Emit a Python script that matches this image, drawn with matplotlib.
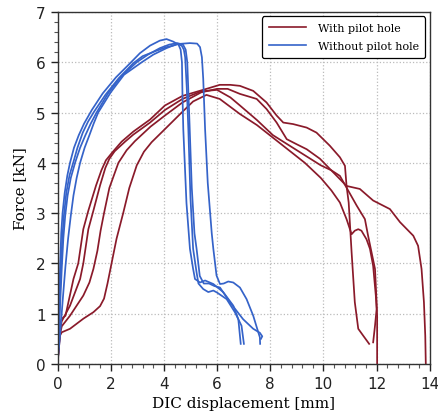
import matplotlib
matplotlib.use("Agg")
import matplotlib.pyplot as plt
from matplotlib.ticker import MultipleLocator
from matplotlib.lines import Line2D

# ---- data: With pilot hole (red) ----
red_a_x = [0, 0.08, 0.16, 0.47, 0.97, 1.35, 1.6, 1.75, 1.88, 2.04, 2.22, 2.47, 2.7, 2.98, 3.25, 3.54, 4.04, 4.67, 5.1, 5.6, 6.1, 6.86,
           7.5, 8.1, 8.7, 9.3, 9.9, 10.3, 10.62, 10.87, 11.06, 11.18, 11.31, 11.43, 11.62, 11.75, 11.87, 11.97, 12.0, 11.94, 11.87]
red_a_f = [0, 0.55, 0.63, 0.70, 0.90, 1.03, 1.15, 1.3, 1.6, 2.02, 2.49, 3.0, 3.5, 3.95, 4.22, 4.41, 4.67, 5.0, 5.22, 5.35, 5.27, 4.97,
           4.75, 4.5, 4.25, 4.0, 3.7, 3.45, 3.21, 2.88, 2.58, 2.65, 2.68, 2.65, 2.48, 2.29, 1.95, 1.36, 1.09, 0.76, 0.43]

red_b_x = [0, 0.1, 0.16, 0.47, 0.97, 1.2, 1.35, 1.5, 1.62, 1.75, 1.95, 2.29, 2.6, 2.91, 3.5, 4.04, 4.7, 5.4, 6.0, 6.4, 6.86,
           7.49, 7.86, 8.24, 8.62, 8.99, 9.37, 9.87, 10.37, 10.87, 11.37, 11.87, 12.5, 12.88, 13.38, 13.56, 13.69, 13.78, 13.83, 13.85]
red_b_f = [0, 0.6, 0.75, 0.96, 1.36, 1.62, 1.89, 2.25, 2.65, 3.0, 3.5, 4.0, 4.25, 4.43, 4.72, 4.94, 5.2, 5.4, 5.47, 5.47, 5.37,
           5.27, 5.07, 4.8, 4.47, 4.37, 4.27, 4.08, 3.81, 3.54, 3.48, 3.25, 3.08, 2.82, 2.55, 2.35, 1.89, 1.23, 0.56, 0.0]

red_c_x = [0, 0.1, 0.16, 0.47, 0.85, 0.97, 1.16, 1.35, 1.6, 1.8, 1.95, 2.15, 2.54, 2.85, 3.48, 4.04, 4.7, 5.4, 6.0, 6.5, 6.86,
           7.5, 8.1, 8.7, 9.3, 9.9, 10.3, 10.62, 11.25, 11.56, 11.68, 11.81, 11.94, 12.0, 12.02, 12.02]
red_c_f = [0, 0.7, 0.85, 1.16, 1.69, 2.0, 2.68, 3.05, 3.55, 3.9, 4.08, 4.23, 4.42, 4.56, 4.8, 5.05, 5.27, 5.42, 5.45, 5.3, 5.14,
           4.85, 4.55, 4.35, 4.15, 3.95, 3.85, 3.74, 3.15, 2.88, 2.55, 2.22, 1.89, 1.23, 0.96, 0.0]

red_d_x = [0, 0.1, 0.16, 0.3, 0.6, 0.78, 0.97, 1.16, 1.45, 1.65, 1.82, 2.05, 2.41, 2.85, 3.48, 4.04, 4.7, 5.6, 6.1, 6.5, 6.86,
           7.36, 7.86, 8.24, 8.49, 8.86, 9.37, 9.74, 10.24, 10.62, 10.81, 10.87, 10.95, 11.06, 11.18, 11.31, 11.5, 11.72]
red_d_f = [0, 0.8, 0.9, 0.96, 1.69, 2.0, 2.68, 3.05, 3.55, 3.85, 4.05, 4.2, 4.42, 4.62, 4.86, 5.14, 5.33, 5.47, 5.55, 5.55, 5.53,
           5.43, 5.2, 4.94, 4.8, 4.77, 4.7, 4.6, 4.34, 4.11, 3.94, 3.54, 3.21, 2.22, 1.23, 0.70, 0.56, 0.40]

# ---- data: Without pilot hole (blue) ----
blue_1_x = [0, 0.03, 0.06, 0.1, 0.14, 0.19, 0.27, 0.37, 0.47, 0.62, 0.8, 1.0, 1.29, 1.7, 2.2, 2.73, 3.1, 3.48, 3.85, 4.1,
            4.35, 4.55, 4.63, 4.68, 4.7, 4.73, 4.85, 4.98, 5.1, 5.17, 5.36, 5.55, 5.86, 6.23, 6.61, 6.8, 6.89]
blue_1_f = [0, 0.5, 1.2, 2.0, 2.6, 3.0, 3.4, 3.75, 4.0, 4.3, 4.55, 4.78, 5.05, 5.38, 5.7, 5.98, 6.18, 6.33, 6.43, 6.46,
            6.41, 6.35, 6.25, 6.0, 5.33, 4.67, 3.2, 2.29, 1.89, 1.69, 1.62, 1.66, 1.59, 1.43, 1.16, 0.89, 0.4]

blue_2_x = [0, 0.04, 0.08, 0.13, 0.18, 0.24, 0.33, 0.45, 0.59, 0.75, 0.95, 1.15, 1.38, 1.8, 2.3, 2.85, 3.2, 3.73, 4.1, 4.35,
            4.54, 4.67, 4.75, 4.8, 4.86, 4.92, 5.0, 5.1, 5.23, 5.3, 5.48, 5.67, 5.86, 6.0, 6.36, 6.67, 6.92, 7.01]
blue_2_f = [0, 0.5, 1.2, 1.9, 2.5, 2.95, 3.4, 3.75, 4.0, 4.3, 4.6, 4.82, 5.02, 5.35, 5.68, 5.98, 6.12, 6.23, 6.3, 6.33,
            6.36, 6.33, 6.25, 6.1, 5.5, 4.67, 3.3, 2.29, 1.82, 1.6, 1.49, 1.43, 1.46, 1.42, 1.29, 1.03, 0.76, 0.4]

blue_3_x = [0, 0.05, 0.1, 0.16, 0.22, 0.29, 0.38, 0.5, 0.66, 0.85, 1.05, 1.25, 1.47, 1.9, 2.4, 2.98, 3.4, 3.85, 4.2, 4.5,
            4.72, 4.82, 4.88, 4.95, 5.05, 5.15, 5.23, 5.35, 5.5, 5.7, 5.9, 6.11, 6.48, 6.98, 7.36, 7.61, 7.7, 7.65]
blue_3_f = [0, 0.5, 1.2, 1.9, 2.5, 2.95, 3.35, 3.7, 4.0, 4.3, 4.55, 4.78, 5.0, 5.38, 5.72, 6.0, 6.15, 6.28, 6.35, 6.38,
            6.35, 6.25, 6.0, 5.0, 3.5, 2.6, 2.29, 1.75, 1.6, 1.6, 1.55, 1.52, 1.23, 0.89, 0.70, 0.62, 0.55, 0.5]

blue_4_x = [0, 0.1, 0.2, 0.3, 0.4, 0.5, 0.6, 0.72, 0.85, 1.02, 1.2, 1.36, 1.53, 2.0, 2.5, 3.17, 3.6, 4.1, 4.48, 4.98,
            5.25, 5.36, 5.43, 5.48, 5.55, 5.65, 5.8, 5.86, 5.98, 6.11, 6.25, 6.42, 6.61, 6.86, 7.11, 7.36, 7.51, 7.61, 7.62]
blue_4_f = [0, 0.6, 1.3, 1.95, 2.5, 2.95, 3.35, 3.7, 4.0, 4.3, 4.55, 4.78, 5.0, 5.4, 5.75, 6.0, 6.15, 6.28, 6.36, 6.38,
            6.37, 6.3, 6.1, 5.67, 4.67, 3.6, 2.6, 2.29, 1.76, 1.59, 1.6, 1.64, 1.62, 1.52, 1.29, 0.96, 0.70, 0.53, 0.4]

legend_labels = ["With pilot hole", "Without pilot hole"]
x_label = "DIC displacement [mm]"
y_label = "Force [kN]"

RED = "#8a1a2a"
BLUE = "#3563c9"

fig = plt.figure(figsize=(4.39, 4.14), dpi=100)
ax = fig.add_axes([0.131, 0.1184, 0.848, 0.8504])

for xs, fs in [(red_a_x, red_a_f), (red_b_x, red_b_f), (red_c_x, red_c_f), (red_d_x, red_d_f)]:
    ax.plot(xs, fs, color=RED, lw=1.25, solid_joinstyle="round")
for xs, fs in [(blue_1_x, blue_1_f), (blue_2_x, blue_2_f), (blue_3_x, blue_3_f), (blue_4_x, blue_4_f)]:
    ax.plot(xs, fs, color=BLUE, lw=1.25, solid_joinstyle="round")

ax.set_xlim(0, 14)
ax.set_ylim(0, 7)
ax.xaxis.set_major_locator(MultipleLocator(2))
ax.xaxis.set_minor_locator(MultipleLocator(0.4))
ax.yaxis.set_major_locator(MultipleLocator(1))
ax.yaxis.set_minor_locator(MultipleLocator(0.2))
ax.tick_params(which="major", direction="out", length=5, width=1, labelsize=11, colors="#222222")
ax.tick_params(which="minor", direction="out", length=3, width=0.8, colors="#555555")
ax.grid(True, which="major", linestyle=":", color="#bbbbbb", linewidth=0.9)
for s in ax.spines.values():
    s.set_color("#333333")
    s.set_linewidth(1.0)

ax.set_xlabel(x_label, family="DejaVu Serif", fontsize=11, labelpad=4)
ax.set_ylabel(y_label, family="DejaVu Serif", fontsize=11, labelpad=6)

handles = [Line2D([], [], color=RED, lw=1.2), Line2D([], [], color=BLUE, lw=1.2)]
leg = ax.legend(handles, legend_labels, loc="upper right", prop={"family": "DejaVu Serif", "size": 8},
                frameon=True, fancybox=True, framealpha=1, edgecolor="black", borderpad=0.6,
                handlelength=3.4, handletextpad=1.0, labelspacing=0.75, borderaxespad=0.4)
leg.get_frame().set_linewidth(0.9)

fig.savefig("out.png", dpi=100)
